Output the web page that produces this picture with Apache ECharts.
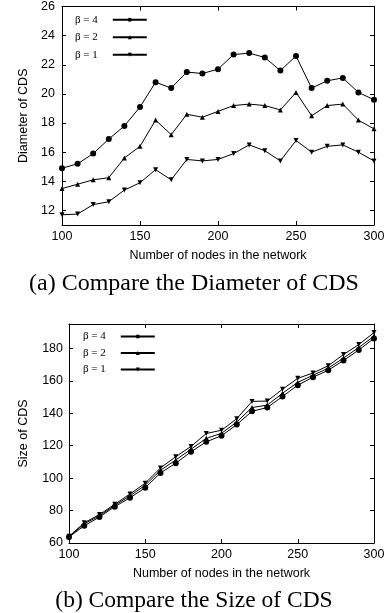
<!DOCTYPE html>
<html>
<head>
<meta charset="utf-8">
<script src="https://cdn.jsdelivr.net/npm/echarts@6/dist/echarts.min.js"></script>
<style>
  html, body { margin: 0; padding: 0; background: #fff; }
  #chart { width: 388px; height: 613px; }
</style>
</head>
<body>
<div id="chart"></div>
<script>
// x values: number of nodes
const nodes = [100, 110, 120, 130, 140, 150, 160, 170, 180, 190, 200,
               210, 220, 230, 240, 250, 260, 270, 280, 290, 300];

// (a) diameter of CDS
const diamB4 = [14.9, 15.2, 15.9, 16.9, 17.8, 19.1, 20.8, 20.4, 21.5, 21.4, 21.7,
                22.7, 22.8, 22.5, 21.6, 22.6, 20.4, 20.9, 21.1, 20.1, 19.6];
const diamB2 = [13.5, 13.8, 14.1, 14.25, 15.6, 16.4, 18.2, 17.2, 18.6, 18.4, 18.8,
                19.2, 19.3, 19.2, 18.9, 20.1, 18.5, 19.2, 19.3, 18.2, 17.6];
const diamB1 = [11.7, 11.75, 12.4, 12.6, 13.4, 13.9, 14.8, 14.1, 15.5, 15.4, 15.5,
                15.9, 16.5, 16.1, 15.4, 16.8, 16.0, 16.4, 16.5, 16.0, 15.4];

// (b) size of CDS
const sizeB4 = [63.7, 70.6, 76, 82.4, 87.9, 94.1, 103.2, 109.2, 116.2, 122.4, 126.1,
                133.0, 141.2, 143.5, 150.3, 157.3, 162.2, 166.5, 172.5, 179, 186.1];
const sizeB2 = [63.9, 71.8, 76.8, 83.2, 89.1, 95.6, 104.8, 111.2, 117.8, 124.5, 127.6,
                134.6, 143.5, 145, 152.3, 159, 163.4, 167.8, 174, 180.5, 187.5];
const sizeB1 = [64.1, 72.5, 77.5, 83.9, 90.2, 96.9, 106.3, 113.2, 119.5, 127.5, 129.5,
                136.6, 147.3, 147.5, 154.8, 161.5, 164.8, 169.3, 176.2, 182.3, 189.7];

const seriesNames = ['β = 4', 'β = 2', 'β = 1'];
const diamTicks = [12, 14, 16, 18, 20, 22, 24, 26];
const sizeTicks = [60, 80, 100, 120, 140, 160, 180];

const chart = echarts.init(document.getElementById('chart'));

const sansFont = 'Liberation Sans';
const serifFont = 'Liberation Serif';
const black = '#000';

function pairs(ys) {
  return nodes.map((x, i) => [x, ys[i]]);
}

function xAxisPair(grid, labelled) {
  return {
    type: 'value', gridIndex: grid, min: 100, max: 300, interval: 50,
    position: labelled ? 'bottom' : 'top',
    axisLine: { show: true, onZero: false, lineStyle: { color: black, width: 1 } },
    axisTick: { show: true, inside: true, length: 4, lineStyle: { color: black } },
    axisLabel: { show: labelled, color: black, fontFamily: sansFont, fontSize: 12.5, margin: 5 },
    splitLine: { show: false },
    name: labelled ? 'Number of nodes in the network' : '',
    nameLocation: 'middle', nameGap: 24,
    nameTextStyle: { color: black, fontFamily: sansFont, fontSize: 12.5 }
  };
}

function yAxisPair(grid, labelled, min, max, ticks, title, gap, margin) {
  return {
    type: 'value', gridIndex: grid, min: min, max: max,
    position: labelled ? 'left' : 'right',
    axisLine: { show: true, onZero: false, lineStyle: { color: black, width: 1 } },
    axisTick: { show: true, inside: true, length: 4, customValues: ticks, lineStyle: { color: black } },
    axisLabel: { show: labelled, customValues: ticks, color: black, fontFamily: sansFont, fontSize: 12.5, margin: margin },
    splitLine: { show: false },
    name: labelled ? title : '',
    nameLocation: 'middle', nameGap: gap,
    nameTextStyle: { color: black, fontFamily: sansFont, fontSize: 12.5 }
  };
}

const markers = [
  { symbol: 'circle', symbolSize: 6, symbolRotate: 0 },
  { symbol: 'triangle', symbolSize: 5, symbolRotate: 0 },
  { symbol: 'triangle', symbolSize: 5, symbolRotate: 180 }
];

function lineSeries(i, data, xi, yi) {
  return {
    name: seriesNames[i], type: 'line', xAxisIndex: xi, yAxisIndex: yi,
    data: pairs(data),
    symbol: markers[i].symbol, symbolSize: markers[i].symbolSize,
    symbolRotate: markers[i].symbolRotate,
    showAllSymbol: true,
    lineStyle: { color: black, width: 1 },
    itemStyle: { color: black },
    emphasis: { disabled: true },
    animation: false
  };
}

function legendAt(left, top, gap) {
  return {
    data: seriesNames, orient: 'vertical', left: left, top: top, padding: 0,
    align: 'right', itemWidth: 34, itemHeight: 5, itemGap: gap,
    textStyle: { color: black, fontFamily: serifFont, fontSize: 11, lineHeight: 11, padding: [0, 10, 0, 0] },
    selectedMode: false
  };
}

chart.setOption({
  backgroundColor: '#fff',
  animation: false,
  title: [
    { text: '(a) Compare the Diameter of CDS', left: 'center', top: 267,
      textStyle: { fontFamily: serifFont, fontSize: 24, fontWeight: 'normal', color: black } },
    { text: '(b) Compare the Size of CDS', left: 'center', top: 584,
      textStyle: { fontFamily: serifFont, fontSize: 23.5, fontWeight: 'normal', color: black } }
  ],
  legend: [legendAt(75, 14.2, 6.5), legendAt(83, 331, 5.5)],
  grid: [
    { left: 62, right: 14, top: 5, height: 220 },
    { left: 69, right: 14, top: 324, height: 219 }
  ],
  xAxis: [xAxisPair(0, true), xAxisPair(0, false), xAxisPair(1, true), xAxisPair(1, false)],
  yAxis: [
    yAxisPair(0, true, 11, 26, diamTicks, 'Diameter of CDS', 32, 7),
    yAxisPair(0, false, 11, 26, diamTicks, '', 0, 7),
    yAxisPair(1, true, 60, 195, sizeTicks, 'Size of CDS', 39, 6),
    yAxisPair(1, false, 60, 195, sizeTicks, '', 0, 6)
  ],
  series: [
    lineSeries(0, diamB4, 0, 0),
    lineSeries(1, diamB2, 0, 0),
    lineSeries(2, diamB1, 0, 0),
    lineSeries(0, sizeB4, 2, 2),
    lineSeries(1, sizeB2, 2, 2),
    lineSeries(2, sizeB1, 2, 2)
  ]
});
</script>
</body>
</html>
